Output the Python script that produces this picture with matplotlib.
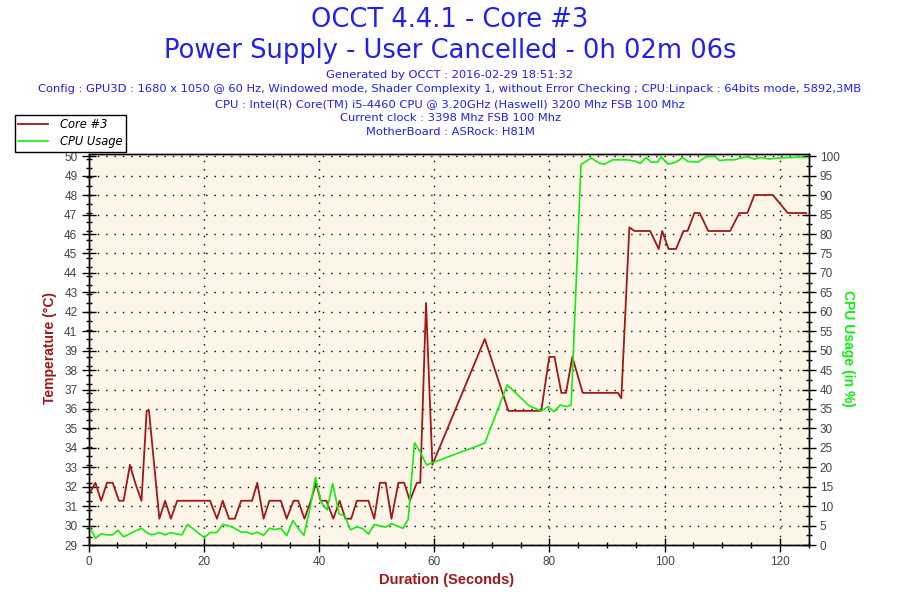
import numpy as np
import matplotlib
matplotlib.use('Agg')
import matplotlib.pyplot as plt
from matplotlib.ticker import FixedLocator, FixedFormatter, MultipleLocator

# data
temp_time = [0, 1.2, 2.2, 3.2, 4.2, 5.3, 6.1, 7.2, 8.1, 9.2, 10.1, 10.5, 12.3, 13.3, 14.3, 15.4,
             21.1, 22.3, 23.3, 24.4, 25.4, 26.5, 28.4, 29.3, 30.4, 31.4, 33.4, 34.4, 35.6, 36.4,
             37.5, 38.6, 39.5, 40.3, 41.3, 42.5, 43.6, 44.6, 45.6, 46.6, 48.6, 49.6, 50.6, 51.6,
             52.6, 53.8, 54.8, 55.8, 57.0, 57.6, 58.6, 59.7, 68.8, 72.9, 78.6, 80.0, 80.9, 82.1,
             82.9, 84.0, 85.8, 91.9, 92.5, 93.9, 94.8, 97.5, 99.0, 99.6, 100.7, 102.0, 103.3,
             104.0, 105.2, 106.1, 107.6, 111.4, 113.0, 114.4, 115.6, 118.8, 121.4, 124.6]
temp_values = [31.3, 32, 31, 32, 32, 31, 31, 33, 32, 31, 36, 36, 30, 31, 30, 31,
               31, 30, 31, 30, 30, 31, 31, 32, 30, 31, 31, 30, 31, 31,
               30, 31, 32, 31, 31, 30, 31, 30, 30, 31, 31, 30, 32, 32,
               30, 32, 32, 31, 32, 32, 42, 33, 40, 36, 36, 39, 39, 37,
               37, 39, 37, 37, 36.7, 46.2, 46, 46, 45, 46, 45, 45, 46,
               46, 47, 47, 46, 46, 47, 47, 48, 48, 47, 47]

cpu_time = [0, 1.2, 2.2, 3.2, 4.2, 5.1, 6.1, 7.2, 8.1, 9.2, 10.1, 11.0, 12.3, 13.3, 14.3, 15.4,
            16.2, 17.2, 18.3, 20.1, 21.1, 22.3, 23.3, 24.4, 25.4, 26.5, 27.5, 28.4, 29.3, 30.4,
            31.4, 32.4, 33.4, 34.4, 35.5, 36.4, 37.4, 38.5, 39.4, 40.4, 41.4, 42.4, 43.5, 44.5,
            45.5, 46.6, 47.6, 48.6, 49.6, 50.6, 51.6, 52.6, 53.6, 54.6, 55.5, 56.6, 57.5, 58.7,
            68.8, 72.7, 76.5, 78.6, 79.8, 80.8, 81.9, 83.0, 83.8, 85.5, 87.3, 88.7, 89.6, 91.0,
            93.4, 94.8, 95.8, 96.8, 97.7, 98.8, 99.4, 100.6, 102.0, 103.2, 104.0, 105.8, 107.2,
            108.7, 109.6, 110.7, 112.1, 113.3, 114.4, 115.6, 116.8, 118.2, 119.9, 122.2, 123.4, 124.6]
cpu_values = [5.4, 1.7, 2.9, 2.6, 2.6, 3.8, 2.1, 2.9, 3.6, 4.3, 3.2, 2.6, 3.2, 2.6, 3.2, 2.8,
              2.6, 5.3, 4.0, 1.9, 3.2, 3.2, 5.3, 4.9, 4.3, 3.3, 3.3, 2.8, 3.3, 2.5,
              4.3, 4.0, 4.3, 2.4, 6.3, 4.3, 2.5, 9.8, 17.4, 11.0, 9.0, 15.8, 8.0, 7.5,
              3.9, 4.7, 4.2, 2.8, 5.3, 4.9, 4.6, 5.5, 4.9, 4.3, 6.6, 26.3, 24.2, 20.6,
              26.2, 41.2, 35.8, 34.5, 35.6, 34.3, 36.0, 35.6, 36.0, 97.9, 99.6, 98.2, 98.0, 99.1,
              99.1, 98.8, 98.2, 99.7, 98.5, 98.5, 99.9, 98.0, 98.5, 99.7, 98.7, 98.5, 99.9,
              100, 98.9, 99.1, 99.1, 99.6, 99.9, 99.3, 99.7, 99.3, 99.6, 99.7, 99.9, 99.7]

temp_tick_labels = ['29', '30', '31', '32', '33', '34', '35', '36', '37', '38', '39',
                    '41', '42', '43', '44', '45', '46', '47', '48', '49', '50']
cpu_ticks = list(range(0, 101, 5))

title1 = 'OCCT 4.4.1 - Core #3'
title2 = 'Power Supply - User Cancelled - 0h 02m 06s'
info_lines = [
    'Generated by OCCT : 2016-02-29 18:51:32',
    'Config : GPU3D : 1680 x 1050 @ 60 Hz, Windowed mode, Shader Complexity 1, without Error Checking ; CPU:Linpack : 64bits mode, 5892,3MB',
    'CPU : Intel(R) Core(TM) i5-4460 CPU @ 3.20GHz (Haswell) 3200 Mhz FSB 100 Mhz',
    'Current clock : 3398 Mhz FSB 100 Mhz',
    'MotherBoard : ASRock: H81M',
]

red = '#A01818'
green = '#11EE11'
blue = '#2020F0'
cream = '#FDF6E8'
tick_col = '#444444'

temp_lim = (28.54, 50.28)
cpu_lim = (0, 100.6)

fig = plt.figure(figsize=(9, 6), dpi=100)
ax = fig.add_axes([88.5 / 900, 55 / 600, 720 / 900, 391 / 600])
ax2 = ax.twinx()

ax.set_facecolor(cream)
ax.set_xlim(0, 125)
ax.set_ylim(*temp_lim)
ax2.set_ylim(*cpu_lim)

l1, = ax.plot(temp_time, temp_values, color=red, lw=1.3, label='Core #3')
l2, = ax2.plot(cpu_time, cpu_values, color=green, lw=1.2, label='CPU Usage')

# left labels sit on the same heights as the right-hand ticks
left_pos = [temp_lim[0] + c / cpu_lim[1] * (temp_lim[1] - temp_lim[0]) for c in cpu_ticks]
ax.yaxis.set_major_locator(FixedLocator(left_pos))
ax.yaxis.set_major_formatter(FixedFormatter(temp_tick_labels))
ax.yaxis.set_minor_locator(MultipleLocator(0.5))
ax.xaxis.set_major_locator(MultipleLocator(20))
ax.xaxis.set_minor_locator(MultipleLocator(5))
ax2.yaxis.set_major_locator(FixedLocator(cpu_ticks))
ax2.yaxis.set_minor_locator(MultipleLocator(2.5))

ax.grid(True, which='major', color='black', linestyle=(0, (1, 5)), lw=1)

for a in (ax, ax2):
    for s in a.spines.values():
        s.set_color('black')
        s.set_linewidth(1)

ax.tick_params(axis='both', which='major', direction='inout', length=10, width=1,
               labelsize=8.5, labelcolor=tick_col, pad=3)
ax.tick_params(axis='both', which='minor', direction='inout', length=5, width=1)
ax2.tick_params(axis='y', which='major', direction='inout', length=10, width=1,
                labelsize=8.5, labelcolor=tick_col, pad=3)
ax2.tick_params(axis='y', which='minor', direction='inout', length=5, width=1)
for lab in ax.get_xticklabels() + ax.get_yticklabels() + ax2.get_yticklabels():
    lab.set_family('Liberation Sans')

fig.text(0.5, 1 - 20 / 600, title1, ha='center', va='center', color=blue, fontsize=18.5)
fig.text(0.5, 1 - 51 / 600, title2, ha='center', va='center', color=blue, fontsize=18.5)
for i, line in enumerate(info_lines):
    fig.text(0.5, 1 - (75 + i * 14.3) / 600, line, ha='center', va='center',
             color=blue, fontsize=8.25)

fig.text(50 / 900, 1 - 348 / 600, 'Temperature (°C)', rotation=90, ha='center', va='center',
         color=red, fontsize=10, fontweight='bold', family='Liberation Sans')
fig.text(848 / 900, 1 - 348 / 600, 'CPU Usage (in %)', rotation=270, ha='center', va='center',
         color=green, fontsize=10, fontweight='bold', family='Liberation Sans')
fig.text(447 / 900, 1 - 580 / 600, 'Duration (Seconds)', ha='center', va='center',
         color=red, fontsize=10.5, fontweight='bold', family='Liberation Sans')

leg = fig.legend([l1, l2], ['Core #3', 'CPU Usage'], loc='upper left',
                 bbox_to_anchor=(15 / 900, 1 - 115 / 600), borderaxespad=0,
                 fancybox=False, framealpha=1, edgecolor='black', handlelength=2.6,
                 prop={'style': 'italic', 'size': 8.3}, labelspacing=0.35,
                 borderpad=0.3, handletextpad=1.0)
leg.get_frame().set_linewidth(1)

fig.savefig('out.png', dpi=100, facecolor='white')
